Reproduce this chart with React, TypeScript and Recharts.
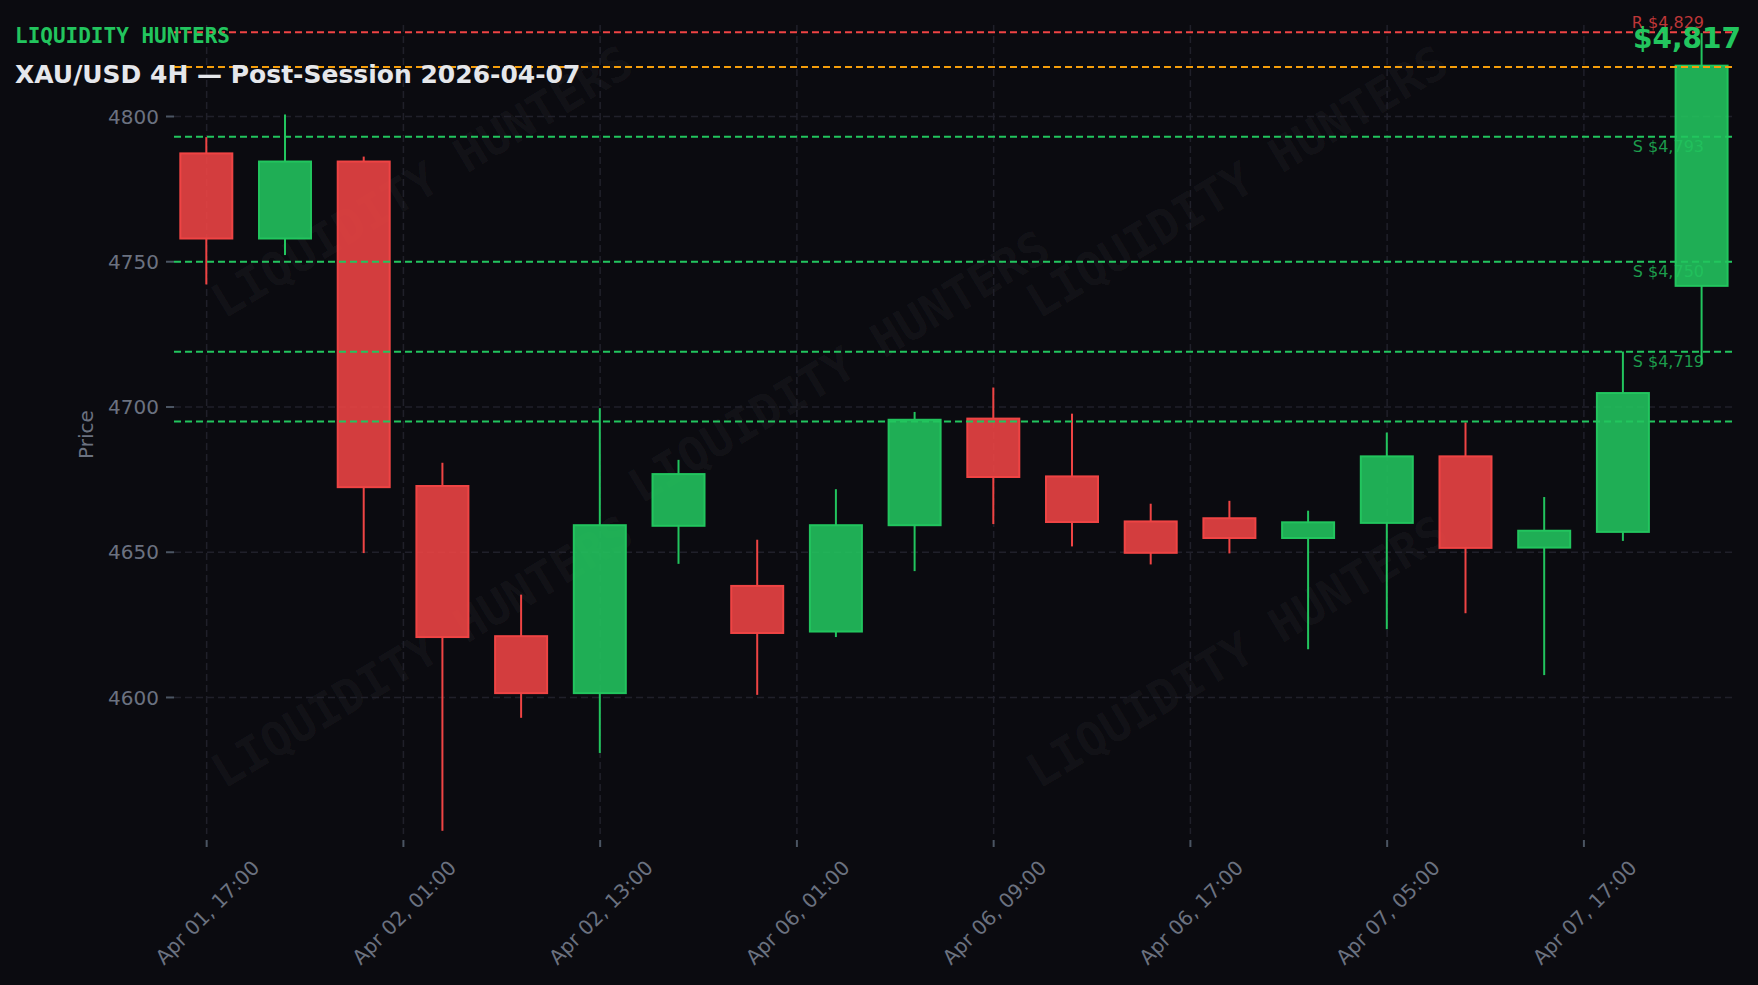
import { ComposedChart, Bar, XAxis, YAxis, CartesianGrid, ReferenceLine } from 'recharts';

// XAU/USD 4H candles
const opens = [4787.3, 4758.0, 4784.5, 4672.8, 4621.1, 4601.5, 4659.1, 4638.4, 4622.7, 4659.3, 4696.0, 4676.1, 4660.6, 4661.7, 4654.9, 4660.1, 4683.0, 4651.6, 4657.0, 4741.7];
const highs = [4792.9, 4800.7, 4786.2, 4680.8, 4635.4, 4699.6, 4681.8, 4654.3, 4671.7, 4698.3, 4706.7, 4697.7, 4666.7, 4667.7, 4664.3, 4691.2, 4694.7, 4669.0, 4719.1, 4828.7];
const lows = [4742.2, 4752.3, 4649.7, 4554.1, 4593.0, 4580.9, 4646.0, 4600.9, 4620.8, 4643.5, 4659.7, 4652.0, 4645.8, 4649.6, 4616.6, 4623.5, 4629.0, 4607.7, 4653.9, 4714.6];
const closes = [4758.0, 4784.5, 4672.4, 4620.8, 4601.5, 4659.3, 4676.9, 4622.2, 4659.3, 4695.6, 4675.9, 4660.4, 4649.8, 4654.9, 4660.3, 4683.0, 4651.5, 4657.4, 4704.8, 4817.5];

const tickPositions = [0, 2.5, 5, 7.5, 10, 12.5, 15, 17.5];
const tickLabels = ['Apr 01, 17:00', 'Apr 02, 01:00', 'Apr 02, 13:00', 'Apr 06, 01:00', 'Apr 06, 09:00', 'Apr 06, 17:00', 'Apr 07, 05:00', 'Apr 07, 17:00'];
const priceTicks = [4600, 4650, 4700, 4750, 4800];

const supportLevels = [4793, 4750, 4719];
const extraSupport = 4695;
const resistance = 4829;
const lastPrice = 4817;

const watermarkSpots = [
  [424, 185],
  [1239, 185],
  [841, 370],
  [424, 655],
  [1239, 655],
];

const BG = '#0b0b10';
const GREEN = '#22c55e';
const RED = '#ef4444';
const ORANGE = '#f59e0b';
const MUTED = '#6b7280';
const GRID = '#20202a';
const FONT = '"DejaVu Sans", Verdana, sans-serif';
const MONO = '"DejaVu Sans Mono", monospace';

const W = 1758;
const H = 985;

const data = opens.map((o, i) => ({
  x: i,
  open: o,
  high: highs[i],
  low: lows[i],
  close: closes[i],
  range: [lows[i], highs[i]],
}));

const fmt = (v: number) => '$' + v.toLocaleString('en-US');

function Candle(props: any) {
  const { x, y, width, height, payload } = props;
  if (x == null || !payload) return null;
  const { open, close, high, low } = payload;
  const color = close >= open ? GREEN : RED;
  const top = Math.min(y, y + height);
  const k = Math.abs(height) / (high - low);
  const yOf = (v: number) => top + (high - v) * k;
  const cx = x + width / 2;
  const bodyTop = yOf(Math.max(open, close));
  const bodyBot = yOf(Math.min(open, close));
  return (
    <g>
      <line x1={cx} x2={cx} y1={yOf(high)} y2={bodyTop} stroke={color} strokeWidth={2} />
      <line x1={cx} x2={cx} y1={bodyBot} y2={yOf(low)} stroke={color} strokeWidth={2} />
      <rect
        x={x + 1}
        y={bodyTop}
        width={width - 2}
        height={Math.max(1, bodyBot - bodyTop)}
        fill={color}
        fillOpacity={0.88}
        stroke={color}
        strokeWidth={2}
      />
    </g>
  );
}

function DateTick({ x, y, payload }: any) {
  const i = tickPositions.indexOf(payload.value);
  const px = x + 54;
  const py = y + 20;
  return (
    <g>
      <line x1={x} x2={x} y1={y - 9} y2={y - 2} stroke="#4b5563" strokeWidth={2} />
      <text
        x={px}
        y={py}
        textAnchor="end"
        fontSize={20}
        fontFamily={FONT}
        fill={MUTED}
        transform={`rotate(-45 ${px} ${py})`}
      >
        {tickLabels[i]}
      </text>
    </g>
  );
}

function levelLabel(text: string, color: string, above: boolean) {
  return (p: any) => {
    const vb = p.viewBox;
    if (!vb) return null;
    return (
      <text
        x={vb.x + vb.width - 31}
        y={above ? vb.y - 4 : vb.y + 15}
        textAnchor="end"
        fontSize={16}
        fontFamily={FONT}
        fill={color}
        fillOpacity={0.78}
      >
        {text}
      </text>
    );
  };
}

function priceLabel(p: any) {
  const vb = p.viewBox;
  if (!vb) return null;
  const px = vb.x + 19;
  const py = vb.y + vb.height / 2 + 5;
  return (
    <text
      x={px}
      y={py}
      textAnchor="middle"
      fontSize={20}
      fontFamily={FONT}
      fill={MUTED}
      transform={`rotate(-90 ${px} ${py})`}
    >
      Price
    </text>
  );
}

export default function App() {
  return (
    <div style={{ position: 'fixed', left: 0, top: 0, width: W, height: H, background: BG, overflow: 'hidden' }}>
      <svg width={W} height={H} style={{ position: 'absolute', left: 0, top: 0 }}>
        {watermarkSpots.map(([cx, cy], i) => (
          <text
            key={i}
            x={cx}
            y={cy}
            textAnchor="middle"
            dominantBaseline="middle"
            fontSize={47}
            fontWeight="bold"
            fontFamily={MONO}
            fill="#ffffff"
            fillOpacity={0.045}
            transform={`rotate(-31 ${cx} ${cy})`}
          >
            LIQUIDITY HUNTERS
          </text>
        ))}
      </svg>
      <div style={{ position: 'absolute', left: 0, top: 0 }}>
        <ComposedChart
          width={W}
          height={H}
          data={data}
          margin={{ top: 25, right: 23, left: 74, bottom: 11 }}
        >
          <CartesianGrid stroke={GRID} strokeDasharray="7 4" strokeWidth={1.5} syncWithTicks />
          <XAxis
            dataKey="x"
            type="number"
            domain={[-0.415, 19.42]}
            ticks={tickPositions}
            interval={0}
            allowDecimals
            height={140}
            axisLine={false}
            tickLine={false}
            tickSize={13}
            tick={<DateTick />}
          />
          <YAxis
            type="number"
            domain={[4553, 4831.5]}
            ticks={priceTicks}
            width={100}
            axisLine={false}
            tickLine={{ stroke: '#4b5563', strokeWidth: 2 }}
            tickSize={8}
            tickMargin={7}
            tick={{ fill: MUTED, fontSize: 20, fontFamily: FONT }}
            label={priceLabel}
          />
          <ReferenceLine
            y={resistance}
            stroke={RED}
            strokeDasharray="7 4"
            strokeWidth={2}
            label={levelLabel('R ' + fmt(resistance), RED, true)}
          />
          <ReferenceLine y={lastPrice} stroke={ORANGE} strokeDasharray="7 4" strokeWidth={2} />
          {supportLevels.map((lvl) => (
            <ReferenceLine
              key={lvl}
              y={lvl}
              stroke={GREEN}
              strokeDasharray="7 4"
              strokeWidth={2}
              label={levelLabel('S ' + fmt(lvl), GREEN, false)}
            />
          ))}
          <ReferenceLine y={extraSupport} stroke={GREEN} strokeDasharray="7 4" strokeWidth={2} />
          <Bar dataKey="range" barSize={54} shape={<Candle />} isAnimationActive={false} />
        </ComposedChart>
      </div>
      <svg width={W} height={H} style={{ position: 'absolute', left: 0, top: 0, pointerEvents: 'none' }}>
        <text x={15} y={43} fontSize={21} fontWeight="bold" fontFamily={MONO} fill={GREEN}>
          LIQUIDITY HUNTERS
        </text>
        <text x={15} y={83} fontSize={25} fontWeight="bold" fontFamily={FONT} fill="#e5e7eb">
          XAU/USD 4H — Post-Session 2026-04-07
        </text>
        <text x={1741} y={48} textAnchor="end" fontSize={28} fontWeight="bold" fontFamily={FONT} fill={GREEN}>
          {fmt(lastPrice)}
        </text>
      </svg>
    </div>
  );
}
